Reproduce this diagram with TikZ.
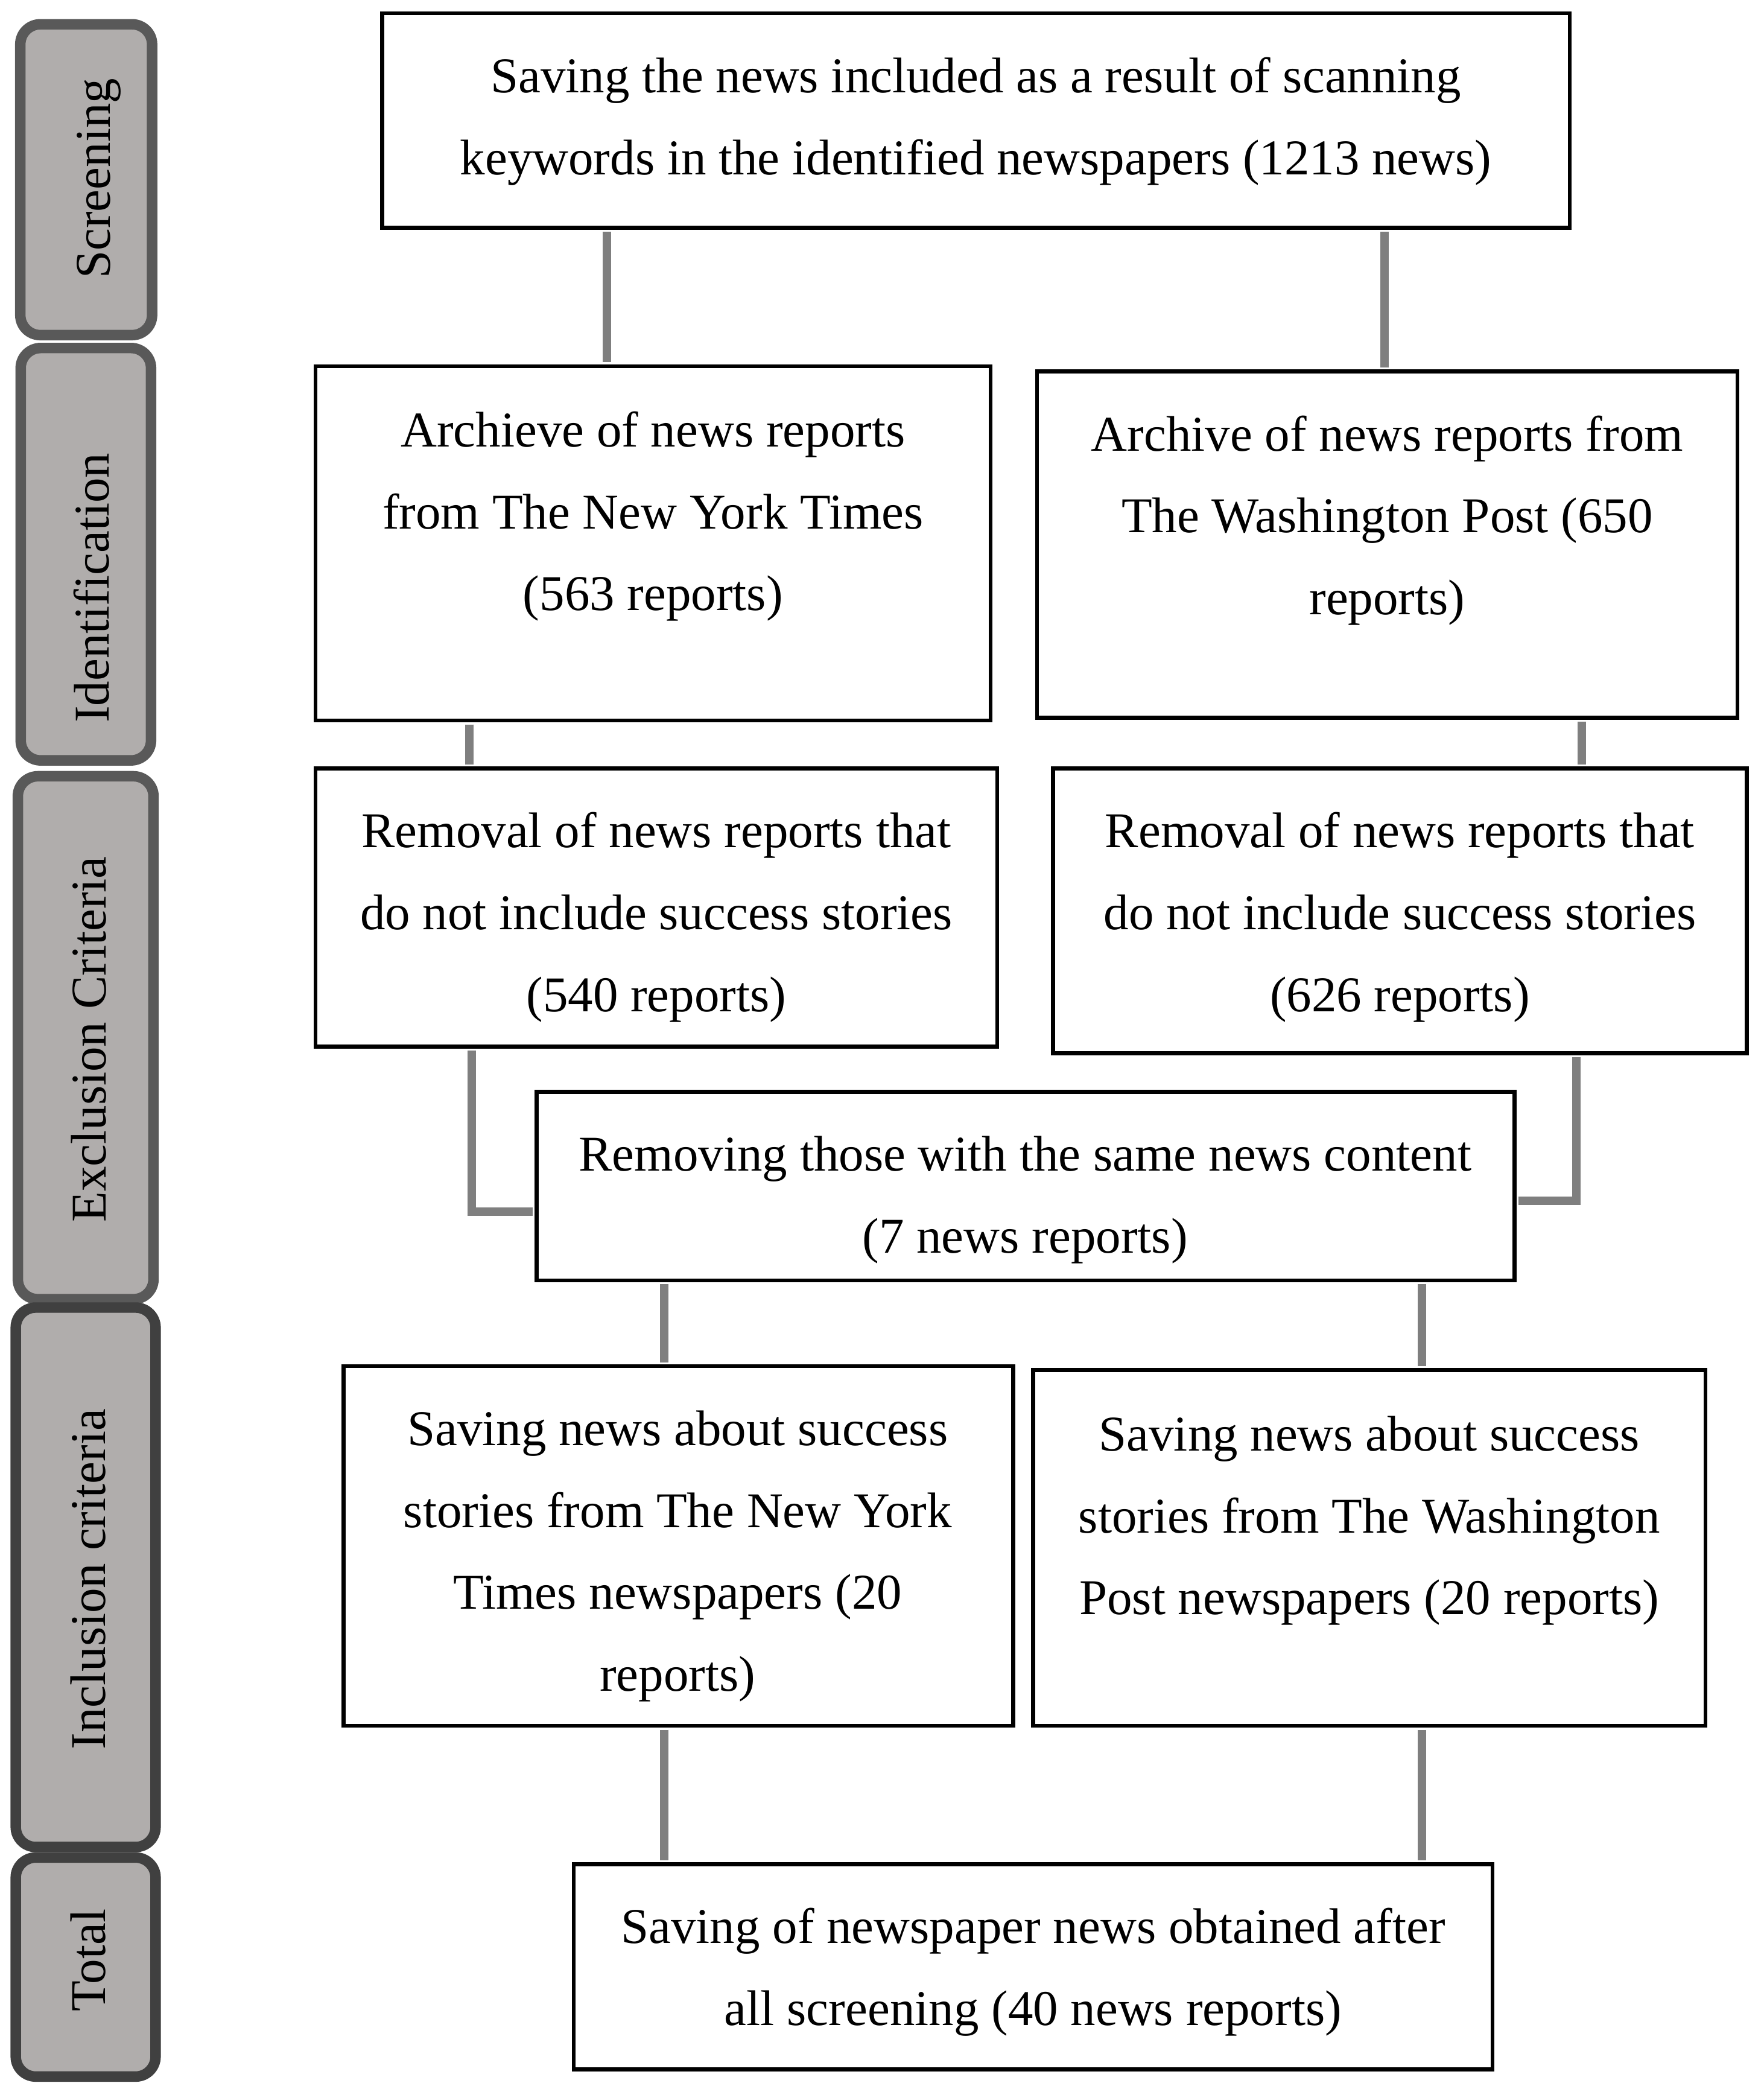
\documentclass[tikz,border=0pt]{standalone}
\usepackage{fontspec}
\setmainfont{Liberation Serif}
\definecolor{barfill}{HTML}{B0ADAC}
\definecolor{barline}{HTML}{595959}
\definecolor{bardark}{HTML}{404040}
\definecolor{connc}{HTML}{7F7F7F}
\begin{document}
\begin{tikzpicture}[x=1pt,y=1pt,
  box/.style={draw=black, line width=3pt, rectangle, inner sep=0pt},
  txt/.style={align=center, inner sep=0pt, font=\fontsize{37.6}{61.5}\selectfont, anchor=base},
  conn/.style={draw=connc, line width=6.3pt, line join=miter, shorten <=1.5pt, shorten >=1.5pt},
  bar/.style={draw=barline, fill=barfill, line width=7.9pt, rounded corners=15pt, rectangle, inner sep=0pt},
  bartxt/.style={rotate=90, anchor=base, inner sep=0pt, font=\fontsize{37.6}{45}\selectfont}]
\useasboundingbox (0,0) rectangle (1325,-1568.8);

% side bars
\node[bar, minimum width=99pt, minimum height=233.4pt] (b1) at (64.75,-134.95) {};
\node[bar, minimum width=97.9pt, minimum height=309.7pt] (b2) at (64.5,-416.2) {};
\node[bar, minimum width=101.9pt, minimum height=392.7pt] (b3) at (64.35,-779.3) {};
\node[bar, draw=bardark, minimum width=105pt, minimum height=405.1pt] (b4) at (64.35,-1184.5) {};
\node[bar, draw=bardark, minimum width=105pt, minimum height=164.5pt] (b5) at (64.35,-1477.2) {};
\node[bartxt] (l1) at (82.6,-134) {Screening};
\node[bartxt] (l2) at (82,-441.5) {Identification};
\node[bartxt] (l3) at (79.5,-780.5) {Exclusion Criteria};
\node[bartxt] (l4) at (79,-1186) {Inclusion criteria};
\node[bartxt] (l5) at (79,-1472) {Total};

% boxes
\node[box, minimum width=892pt, minimum height=161pt] (top) at (733,-90.5) {};
\node[box, minimum width=507pt, minimum height=266pt] (nyt) at (490.5,-408) {};
\node[box, minimum width=526pt, minimum height=260pt] (wp) at (1042,-409) {};
\node[box, minimum width=512pt, minimum height=209pt] (rl) at (493,-681.5) {};
\node[box, minimum width=521pt, minimum height=214pt] (rr) at (1051.5,-684) {};
\node[box, minimum width=734.6pt, minimum height=141.5pt] (same) at (770.3,-890.75) {};
\node[box, minimum width=503pt, minimum height=270pt] (snyt) at (509.5,-1161) {};
\node[box, minimum width=505pt, minimum height=267pt] (swp) at (1028.5,-1162.5) {};
\node[box, minimum width=690pt, minimum height=154pt] (total) at (776,-1477) {};

% texts (anchored at the baseline of the last line)
\node[txt] (t1) at (733,-131) {Saving the news included as a result of scanning\\keywords in the identified newspapers (1213 news)};
\node[txt] (t2) at (490.5,-458.5) {Archieve of news reports\\from The New York Times\\(563 reports)};
\node[txt] (t3) at (1042,-461.5) {Archive of news reports from\\The Washington Post (650\\reports)};
\node[txt] (t4) at (493,-759.5) {Removal of news reports that\\do not include success stories\\(540 reports)};
\node[txt] (t5) at (1051.5,-759.5) {Removal of news reports that\\do not include success stories\\(626 reports)};
\node[txt] (t6) at (770,-941) {Removing those with the same news content\\(7 news reports)};
\node[txt] (t7) at (509,-1270) {Saving news about success\\stories from The New York\\Times newspapers (20\\reports)};
\node[txt] (t8) at (1028.5,-1212.5) {Saving news about success\\stories from The Washington\\Post newspapers (20 reports)};
\node[txt] (t9) at (776,-1521) {Saving of newspaper news obtained after\\all screening (40 news reports)};

% connectors
\draw[conn] ([xshift=-34.5pt]nyt.north |- top.south) -- ([xshift=-34.5pt]nyt.north);
\draw[conn] ([xshift=-2pt]wp.north |- top.south) -- ([xshift=-2pt]wp.north);
\draw[conn] ([xshift=-138pt]nyt.south) -- ([xshift=-138pt]nyt.south |- rl.north);
\draw[conn] ([xshift=146pt]wp.south) -- ([xshift=146pt]wp.south |- rr.north);
\draw[conn] ([xshift=-138.5pt]rl.south) |- ([yshift=-19.25pt]same.west);
\draw[conn] ([xshift=132.5pt]rr.south) |- ([yshift=-11pt]same.east);
\draw[conn] ([xshift=-10.5pt]snyt.north |- same.south) -- ([xshift=-10.5pt]snyt.north);
\draw[conn] ([xshift=39.5pt]swp.north |- same.south) -- ([xshift=39.5pt]swp.north);
\draw[conn] ([xshift=-10.5pt]snyt.south) -- ([xshift=-10.5pt]snyt.south |- total.north);
\draw[conn] ([xshift=39.5pt]swp.south) -- ([xshift=39.5pt]swp.south |- total.north);
\end{tikzpicture}
\end{document}
